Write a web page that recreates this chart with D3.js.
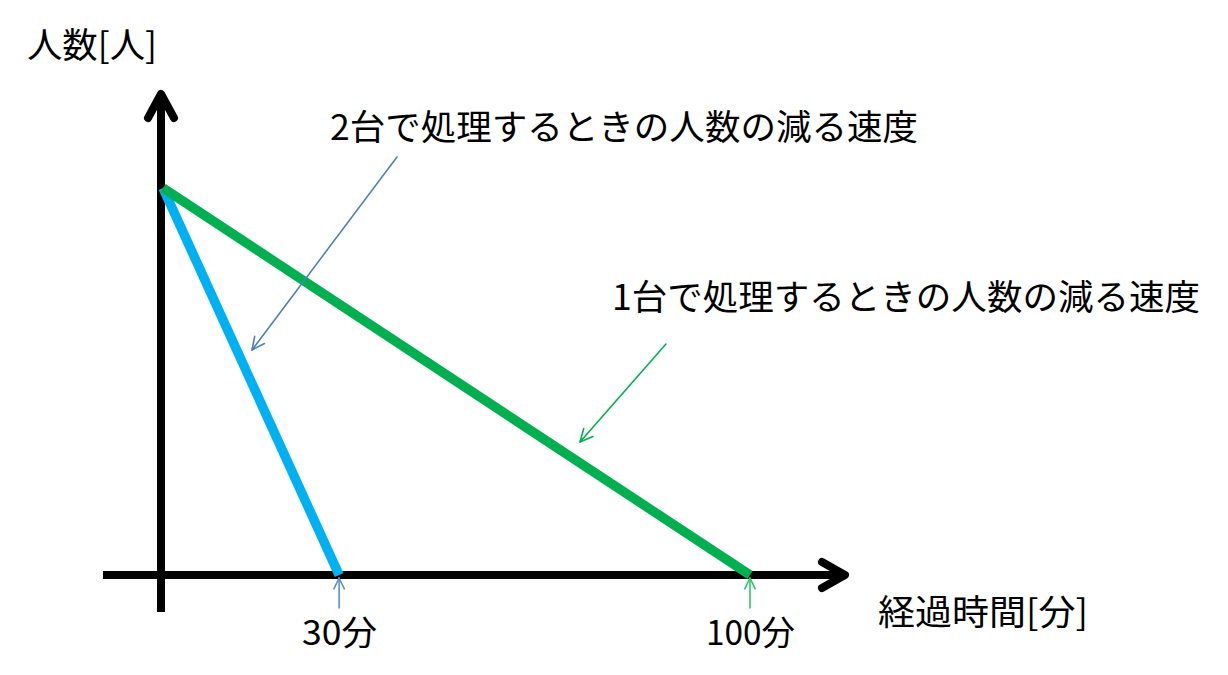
<!DOCTYPE html>
<html><head><meta charset="utf-8">
<script src="https://cdn.jsdelivr.net/npm/d3@7"></script>
<style>html,body{margin:0;padding:0;background:#fff;}svg{display:block;}</style>
</head><body>
<svg id="c" width="1228" height="675"></svg>
<script>
// Data
const seriesNames = ["2台で処理するときの人数の減る速度", "1台で処理するときの人数の減る速度"];
const endMinutes = [30, 100];            // time when people reach zero
const startPeople = [100, 100];          // initial number of people (relative)
const tickLabels = ["30分", "100分"];
const seriesColors = ["#00B0F0", "#00B050"];
const annotColors = ["#4F81BD", "#00B050"];
const axisTitleY = "人数[人]";
const axisTitleX = "経過時間[分]";

const svg = d3.select("#c");
const font = "'Noto Sans CJK JP','Noto Sans',sans-serif";

const x = d3.scaleLinear().domain([0, 100]).range([163, 750]);
const y = d3.scaleLinear().domain([0, 100]).range([575, 188]);

// Axes
const ax = svg.append("g").attr("stroke", "#000").attr("stroke-width", 8)
  .attr("stroke-linecap", "round").attr("stroke-linejoin", "round").attr("fill", "none");
ax.append("line").attr("x1", 161).attr("y1", 612).attr("x2", 161).attr("y2", 95).attr("stroke-linecap","butt");
ax.append("path").attr("d", "M148,118 L161,94 L174,118");
ax.append("line").attr("x1", 103).attr("y1", 575).attr("x2", 844).attr("y2", 575).attr("stroke-linecap","butt");
ax.append("path").attr("d", "M822,562 L845,575 L822,588");

// Series lines
endMinutes.forEach((m, i) => {
  svg.append("line")
    .attr("x1", x(0)).attr("y1", y(startPeople[i]))
    .attr("x2", x(m)).attr("y2", y(0))
    .attr("stroke", seriesColors[i]).attr("stroke-width", 9.5)
    .attr("stroke-linecap", "butt");
});

// Arrow helper
function arrow(x1, y1, x2, y2, color, w, head) {
  const g = svg.append("g").attr("stroke", color).attr("stroke-width", w).attr("fill", "none")
    .attr("stroke-linecap", "round").attr("stroke-linejoin", "round");
  g.append("line").attr("x1", x1).attr("y1", y1).attr("x2", x2).attr("y2", y2);
  const a = Math.atan2(y2 - y1, x2 - x1);
  const L = head, sp = 0.45;
  g.append("path").attr("d",
    `M${x2 - L * Math.cos(a - sp)},${y2 - L * Math.sin(a - sp)} L${x2},${y2} L${x2 - L * Math.cos(a + sp)},${y2 - L * Math.sin(a + sp)}`);
}

function label(tx, ty, len, size, str, anchor) {
  svg.append("text").attr("x", tx).attr("y", ty)
    .attr("font-family", font).attr("font-size", size).attr("fill", "#000")
    .attr("textLength", len).attr("lengthAdjust", "spacingAndGlyphs")
    .attr("text-anchor", anchor || "start").text(str);
}

// Tick arrows and labels
const tickLens = [75, 89];
endMinutes.forEach((m, i) => {
  const col = i === 0 ? "#5B8ED0" : "#2EC66A";
  arrow(x(m), 608, x(m), 578, col, 1.6, 12);
  label(x(m) + 0.5, 645, tickLens[i], 34, tickLabels[i], "middle");
});

// Annotation arrows
arrow(397, 157, 252, 350, annotColors[0], 1.6, 14);
arrow(666, 344, 580, 442, annotColors[1], 1.6, 14);

// Annotation texts
label(330, 140, 588, 35, seriesNames[0]);
label(612, 310, 588, 35, seriesNames[1]);

// Axis titles
label(27, 58, 130, 35, axisTitleY);
label(878, 625, 210, 35, axisTitleX);
</script>
</body></html>
